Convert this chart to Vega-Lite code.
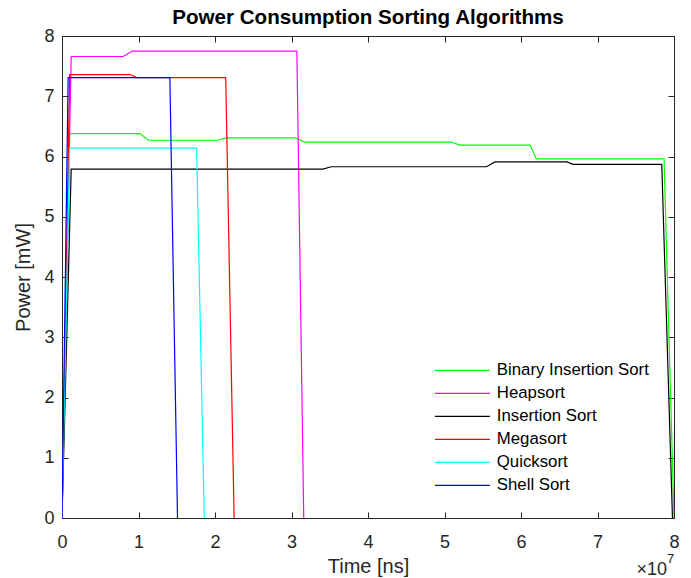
{
  "$schema": "https://vega.github.io/schema/vega-lite/v6.json",
  "width": 612,
  "height": 482,
  "autosize": {"type": "none"},
  "padding": {"left": 62, "top": 36, "right": 17, "bottom": 60},
  "background": "white",
  "config": {
    "font": "Liberation Sans",
    "view": {"stroke": "#262626", "strokeWidth": 1},
    "axis": {"grid": false, "domain": false, "tickColor": "#262626", "labelColor": "#262626", "titleColor": "#262626", "labelFontSize": 18, "titleFontSize": 20, "titleFontWeight": "normal", "tickSize": -6, "labelFlush": false},
    "title": {"fontSize": 20.6, "fontWeight": "bold", "color": "#000000", "offset": -2}
  },
  "title": "Power Consumption Sorting Algorithms",
  "datasets": {
    "lines": [
      {"t": 0, "p": 0, "alg": "Binary Insertion Sort"},
      {"t": 1000000, "p": 6.38, "alg": "Binary Insertion Sort"},
      {"t": 10200000, "p": 6.38, "alg": "Binary Insertion Sort"},
      {"t": 11300000, "p": 6.27, "alg": "Binary Insertion Sort"},
      {"t": 20400000, "p": 6.27, "alg": "Binary Insertion Sort"},
      {"t": 21500000, "p": 6.31, "alg": "Binary Insertion Sort"},
      {"t": 30500000, "p": 6.31, "alg": "Binary Insertion Sort"},
      {"t": 31700000, "p": 6.24, "alg": "Binary Insertion Sort"},
      {"t": 50900000, "p": 6.24, "alg": "Binary Insertion Sort"},
      {"t": 52000000, "p": 6.19, "alg": "Binary Insertion Sort"},
      {"t": 61200000, "p": 6.19, "alg": "Binary Insertion Sort"},
      {"t": 62000000, "p": 5.96, "alg": "Binary Insertion Sort"},
      {"t": 78700000, "p": 5.96, "alg": "Binary Insertion Sort"},
      {"t": 80000000, "p": 0, "alg": "Binary Insertion Sort"},
      {"t": 0, "p": 0, "alg": "Heapsort"},
      {"t": 1200000, "p": 7.66, "alg": "Heapsort"},
      {"t": 8000000, "p": 7.66, "alg": "Heapsort"},
      {"t": 9200000, "p": 7.75, "alg": "Heapsort"},
      {"t": 30700000, "p": 7.75, "alg": "Heapsort"},
      {"t": 31600000, "p": 0, "alg": "Heapsort"},
      {"t": 0, "p": 0, "alg": "Insertion Sort"},
      {"t": 1200000, "p": 5.79, "alg": "Insertion Sort"},
      {"t": 34100000, "p": 5.79, "alg": "Insertion Sort"},
      {"t": 35200000, "p": 5.83, "alg": "Insertion Sort"},
      {"t": 55500000, "p": 5.83, "alg": "Insertion Sort"},
      {"t": 56600000, "p": 5.91, "alg": "Insertion Sort"},
      {"t": 66000000, "p": 5.91, "alg": "Insertion Sort"},
      {"t": 66800000, "p": 5.87, "alg": "Insertion Sort"},
      {"t": 78400000, "p": 5.87, "alg": "Insertion Sort"},
      {"t": 79800000, "p": 0, "alg": "Insertion Sort"},
      {"t": 0, "p": 0, "alg": "Megasort"},
      {"t": 1000000, "p": 7.36, "alg": "Megasort"},
      {"t": 8900000, "p": 7.36, "alg": "Megasort"},
      {"t": 9800000, "p": 7.31, "alg": "Megasort"},
      {"t": 21400000, "p": 7.31, "alg": "Megasort"},
      {"t": 22500000, "p": 0, "alg": "Megasort"},
      {"t": 0, "p": 0, "alg": "Quicksort"},
      {"t": 1000000, "p": 6.14, "alg": "Quicksort"},
      {"t": 17600000, "p": 6.14, "alg": "Quicksort"},
      {"t": 18600000, "p": 0, "alg": "Quicksort"},
      {"t": 0, "p": 0, "alg": "Shell Sort"},
      {"t": 800000, "p": 7.31, "alg": "Shell Sort"},
      {"t": 14100000, "p": 7.31, "alg": "Shell Sort"},
      {"t": 15100000, "p": 0, "alg": "Shell Sort"}
    ],
    "note": [{"t": 80000000, "p": 0, "base": "×10", "exp": "7"}]
  },
  "layer": [
    {
      "data": {"name": "lines"},
      "mark": {"type": "line", "strokeWidth": 1.2, "clip": true},
      "encoding": {
        "x": {"field": "t", "type": "quantitative", "scale": {"domain": [0, 80000000], "nice": false, "zero": false}, "axis": {"orient": "bottom", "title": "Time [ns]", "values": [0, 10000000, 20000000, 30000000, 40000000, 50000000, 60000000, 70000000, 80000000], "labelExpr": "format(datum.value / 10000000, 'd')", "labelPadding": 21, "titlePadding": 5}},
        "y": {"field": "p", "type": "quantitative", "scale": {"domain": [0, 8], "nice": false}, "axis": {"orient": "left", "title": "Power [mW]", "values": [0, 1, 2, 3, 4, 5, 6, 7, 8], "labelPadding": 14, "titlePadding": 10}},
        "color": {"field": "alg", "type": "nominal", "scale": {"domain": ["Binary Insertion Sort", "Heapsort", "Insertion Sort", "Megasort", "Quicksort", "Shell Sort"], "range": ["#00FF00", "#FF00FF", "#000000", "#FF0000", "#00FFFF", "#0000FF"]}, "legend": {"title": null, "orient": "none", "legendX": 370, "legendY": 326, "symbolType": "M-1,0H9", "symbolSize": 121, "symbolStrokeWidth": 1.2, "labelFontSize": 16.8, "labelColor": "#000000", "labelOffset": 48, "rowPadding": 5}}
      }
    },
    {
      "data": {"name": "lines"},
      "mark": {"type": "point", "opacity": 0},
      "encoding": {
        "x": {"field": "t", "type": "quantitative", "axis": {"orient": "top", "title": null, "labels": false, "values": [0, 10000000, 20000000, 30000000, 40000000, 50000000, 60000000, 70000000, 80000000]}},
        "y": {"field": "p", "type": "quantitative", "axis": {"orient": "right", "title": null, "labels": false, "values": [0, 1, 2, 3, 4, 5, 6, 7, 8]}}
      }
    },
    {
      "data": {"name": "note"},
      "mark": {"type": "text", "align": "right", "baseline": "alphabetic", "dy": 57, "dx": -7, "fontSize": 18, "color": "#262626"},
      "encoding": {
        "x": {"field": "t", "type": "quantitative", "axis": null},
        "y": {"field": "p", "type": "quantitative", "axis": null},
        "text": {"field": "base"}
      }
    },
    {
      "data": {"name": "note"},
      "mark": {"type": "text", "align": "left", "baseline": "alphabetic", "dy": 45, "dx": -7, "fontSize": 13, "color": "#262626"},
      "encoding": {
        "x": {"field": "t", "type": "quantitative", "axis": null},
        "y": {"field": "p", "type": "quantitative", "axis": null},
        "text": {"field": "exp"}
      }
    }
  ],
  "resolve": {"axis": {"x": "independent", "y": "independent"}}
}
